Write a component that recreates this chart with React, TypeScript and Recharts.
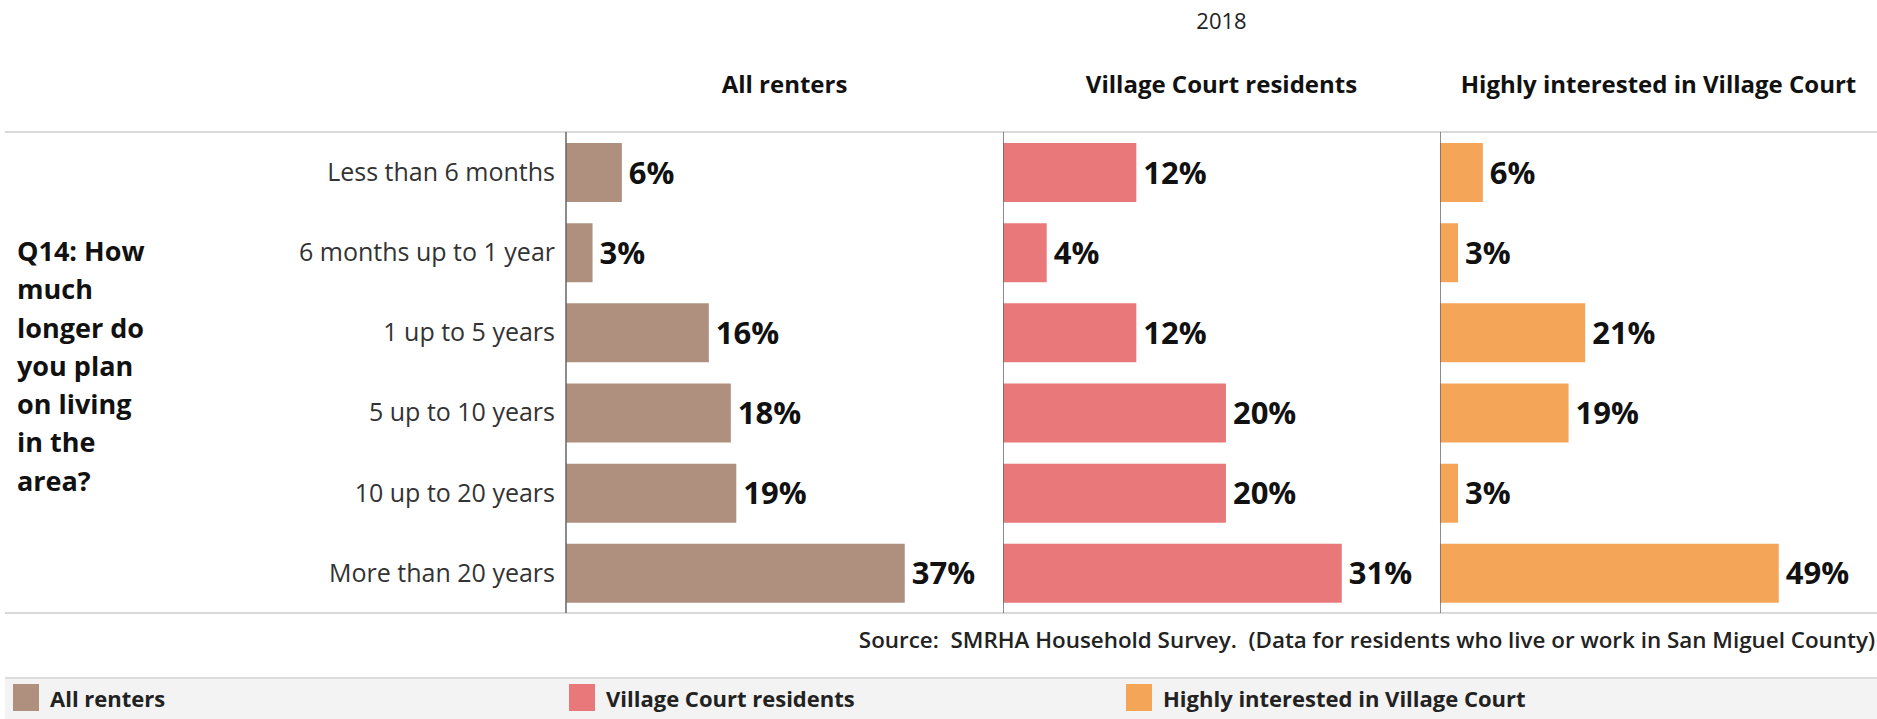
import React from 'react';
import { BarChart, Bar, XAxis, YAxis, LabelList, ReferenceLine } from 'recharts';

const categories = [
    'Less than 6 months',
    '6 months up to 1 year',
    '1 up to 5 years',
    '5 up to 10 years',
    '10 up to 20 years',
    'More than 20 years',
];

// percent of respondents
const allRenters = [6.1, 2.9, 15.6, 18.0, 18.6, 37.0];
const villageCourtResidents = [12.2, 4.0, 12.2, 20.4, 20.4, 31.0];
const highlyInterested = [6.2, 2.6, 21.0, 18.6, 2.6, 49.0];

const seriesNames = ['All renters', 'Village Court residents', 'Highly interested in Village Court'];
const seriesColors = ['#AF8F7D', '#E8787A', '#F4A557'];
const seriesValues = [allRenters, villageCourtResidents, highlyInterested];

const questionLines = ['Q14: How', 'much', 'longer do', 'you plan', 'on living', 'in the', 'area?'];
const yearLabel = '2018';
const sourceText = 'Source:  SMRHA Household Survey.  (Data for residents who live or work in San Miguel County)';

const FONT = '"Open Sans", "Noto Sans", sans-serif';
const PLOT_TOP = 132;
const PLOT_H = 481;
const PANEL_W = 437;
const AXIS_X = [566, 1003, 1440];
const LEGEND_X = [13, 569, 1126];

const chartData = categories.map((name, i) => ({
    name,
    v0: allRenters[i],
    v1: villageCourtResidents[i],
    v2: highlyInterested[i],
}));

// place a single line of text by its baseline (Open Sans metrics)
const top = (baseline: number, size: number) => baseline - 0.888 * size;

const Panel: React.FC<{ idx: number }> = ({ idx }) => {
    const first = idx === 0;
    const yW = first ? AXIS_X[0] : 0;
    return (
        <div style={{ position: 'absolute', left: first ? 0 : AXIS_X[idx], top: PLOT_TOP }}>
            <BarChart
                width={yW + PANEL_W}
                height={PLOT_H}
                data={chartData}
                layout="vertical"
                margin={{ top: 0, right: 0, bottom: 0, left: 0 }}
            >
                <XAxis type="number" hide domain={[0, (max: number) => max * 1.29]} />
                <YAxis
                    type="category"
                    dataKey="name"
                    width={yW}
                    hide={!first}
                    tick={{ fontSize: 25, fill: '#333', fontFamily: FONT }}
                    tickLine={false}
                    tickSize={9}
                    tickMargin={2}
                    axisLine={false}
                    interval={0}
                />
                <ReferenceLine x={0} stroke="#666" strokeWidth={1.5} />
                <Bar dataKey={`v${idx}`} fill={seriesColors[idx]} barSize={59} isAnimationActive={false}>
                    <LabelList
                        dataKey={`v${idx}`}
                        position="right"
                        offset={7}
                        formatter={(v: any) => `${Math.round(Number(v))}%`}
                        style={{ fontSize: 31, fontWeight: 700, fill: '#111', fontFamily: FONT }}
                    />
                </Bar>
            </BarChart>
        </div>
    );
};

export default function App() {
    return (
        <div style={{ position: 'absolute', left: 0, top: 0, width: 1877, height: 719, background: '#fff', fontFamily: FONT, color: '#111', overflow: 'hidden' }}>
            <div style={{ position: 'absolute', left: AXIS_X[0], width: 1877 - AXIS_X[0], top: top(29, 22), fontSize: 22, lineHeight: '22px', textAlign: 'center', color: '#222' }}>
                {yearLabel}
            </div>
            {seriesNames.map((s, i) => (
                <div key={s} style={{ position: 'absolute', left: AXIS_X[i], width: PANEL_W, top: top(93, 24), fontSize: 24, lineHeight: '24px', fontWeight: 700, textAlign: 'center', whiteSpace: 'nowrap' }}>
                    {s}
                </div>
            ))}

            <div style={{ position: 'absolute', left: 5, right: 0, top: PLOT_TOP - 1, height: 2, background: '#d9d9d9' }} />
            <div style={{ position: 'absolute', left: 5, right: 0, top: PLOT_TOP + PLOT_H - 1, height: 2, background: '#d9d9d9' }} />

            <div style={{ position: 'absolute', left: 17, top: 262 - 30, fontSize: 27, lineHeight: '38.3px', fontWeight: 700 }}>
                {questionLines.map((l, i) => (
                    <div key={i}>{l}</div>
                ))}
            </div>

            {seriesValues.map((_, i) => (
                <Panel key={i} idx={i} />
            ))}

            <div style={{ position: 'absolute', right: 2, top: top(649, 22.4), fontSize: 22.4, lineHeight: '22.4px', fontWeight: 600, whiteSpace: 'pre', color: '#222' }}>
                {sourceText}
            </div>

            <div style={{ position: 'absolute', left: 5, right: 0, top: 677, bottom: 0, background: '#f3f3f3', borderTop: '2px solid #dcdcdc' }} />
            {seriesNames.map((s, i) => (
                <React.Fragment key={s}>
                    <div style={{ position: 'absolute', left: LEGEND_X[i], top: 684, width: 26, height: 27, background: seriesColors[i] }} />
                    <div style={{ position: 'absolute', left: LEGEND_X[i] + 37, top: top(707, 22), fontSize: 22, lineHeight: '22px', fontWeight: 700, whiteSpace: 'nowrap', color: '#222' }}>
                        {s}
                    </div>
                </React.Fragment>
            ))}
        </div>
    );
}
